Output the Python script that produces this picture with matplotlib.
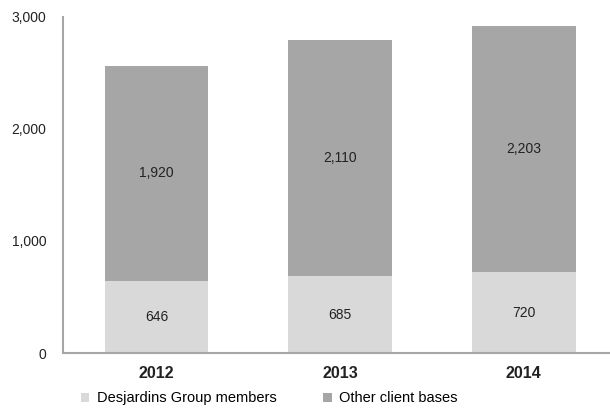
import matplotlib.pyplot as plt
import numpy as np

plt.rcParams['font.family'] = ['Liberation Sans', 'DejaVu Sans']

years = ['2012', '2013', '2014']
members = [646, 685, 720]
other = [1920, 2110, 2203]

light = '#d9d9d9'
dark = '#a6a6a6'

fig = plt.figure(figsize=(6.1, 4.19), dpi=100)
ax = fig.add_axes([0.103, 0.1575, 0.897, 0.802])

x = np.arange(len(years))
w = 0.565
ax.bar(x, members, w, color=light, label='Desjardins Group members')
ax.bar(x, other, w, bottom=members, color=dark, label='Other client bases')

for i in range(len(years)):
    ax.text(x[i], members[i] / 2, f'{members[i]:,}', ha='center', va='center',
            fontsize=10, color='#222222')
    ax.text(x[i], members[i] + other[i] / 2, f'{other[i]:,}', ha='center',
            va='center', fontsize=10, color='#222222')

ax.set_xlim(-0.51, 2.47)
ax.set_ylim(0, 3000)
ax.set_yticks([0, 1000, 2000, 3000])
ax.set_yticklabels(['0', '1,000', '2,000', '3,000'], fontsize=10, color='#222222')
ax.set_xticks(x)
ax.set_xticklabels(years, fontsize=11.5, fontweight='bold', color='#222222')
ax.tick_params(length=0)
ax.tick_params(axis='y', pad=12)
ax.tick_params(axis='x', pad=9)

for s in ['top', 'right']:
    ax.spines[s].set_visible(False)
for s in ['left', 'bottom']:
    ax.spines[s].set_color('#a6a6a6')
    ax.spines[s].set_linewidth(1.5)

ax.legend(loc='upper center', bbox_to_anchor=(0.377, -0.075), ncol=2,
          frameon=False, fontsize=10.5, handlelength=0.6, handleheight=0.6,
          handletextpad=0.5, columnspacing=3.2)

plt.savefig('out.png', dpi=100)
